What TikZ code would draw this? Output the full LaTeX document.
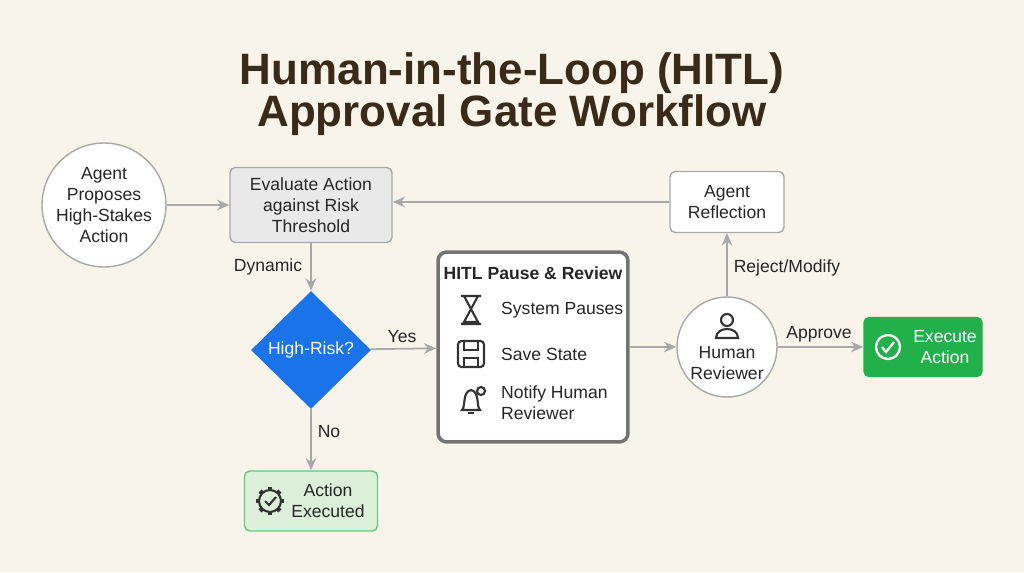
\documentclass[tikz,border=0pt]{standalone}
\usepackage{fontspec}
\setmainfont{Liberation Sans}
\usetikzlibrary{shapes.geometric,positioning,arrows.meta}
\definecolor{bg}{HTML}{F8F4EA}
\definecolor{ttl}{HTML}{3A2A1A}
\definecolor{edge}{HTML}{A8A8A8}
\definecolor{blu}{HTML}{1A73E8}
\definecolor{grn}{HTML}{22B04A}
\definecolor{lgrn}{HTML}{DCEFD8}
\definecolor{gbox}{HTML}{E9E9E9}
\tikzset{
	txt/.style={font=\fontsize{10}{12}\selectfont, text=black!85, align=center},
	circ/.style={circle, draw=edge, fill=white, line width=0.8pt, inner sep=0pt, txt},
	box/.style={rectangle, rounded corners=3pt, draw=edge, line width=0.8pt, txt},
	arr/.style={-{Stealth[length=7pt,width=6pt]}, draw=edge, line width=1pt},
	lbl/.style={txt}
}
\begin{document}
\begin{tikzpicture}[x=0.02cm,y=-0.02cm]
	\fill[bg] (0,0) rectangle (1024,572);
	\useasboundingbox (0,0) rectangle (1024,572);
	% title
	\node[font=\fontsize{25}{23}\bfseries, text=ttl, align=center] (title) at (512,94) {Human-in-the-Loop (HITL)\\Approval Gate Workflow};
	% nodes
	\node[circ, minimum size=2.48cm] (propose) at (104,205) {Agent\\Proposes\\High-Stakes\\Action};
	\node[box, fill=gbox, minimum width=3.24cm, minimum height=1.5cm] (eval) at (311,205) {Evaluate Action\\against Risk\\Threshold};
	\node[box, fill=white, minimum width=2.28cm, minimum height=1.22cm] (reflect) at (727,202) {Agent\\Reflection};
	\node[diamond, fill=blu, text=white, minimum width=2.4cm, minimum height=2.36cm, inner sep=0pt, font=\fontsize{10}{12}\selectfont] (risk) at (311,350) {High-Risk?};
	\node[box, draw=black!55, line width=2pt, rounded corners=5pt, fill=white, minimum width=3.8cm, minimum height=3.8cm] (pause) at (533,347) {};
	\node[circ, minimum size=2cm] (human) at (727,347) {};
	\node[box, draw=grn, fill=grn, text=white, minimum width=2.36cm, minimum height=1.18cm] (exec) at (923,347) {};
	\node[box, draw=grn!70, fill=lgrn, minimum width=2.66cm, minimum height=1.2cm] (done) at (311,501) {};
	% texts inside
	\node[txt, font=\fontsize{10}{12}\bfseries] (pausehead) at (533,273) {HITL Pause \& Review};
	\node[txt, anchor=west] (step1) at (495,310) {System Pauses};
	\node[txt, anchor=west] (step2) at (495,354) {Save State};
	\node[txt, anchor=west, align=left] (step3) at (495,403) {Notify Human\\Reviewer};
	\node[txt] (humantxt) at (727,363) {Human\\Reviewer};
	\node[txt, text=white] (exectxt) at (945,347) {Execute\\Action};
	\node[txt] (donetxt) at (328,501) {Action\\Executed};
	% icons
	\draw[black!80, line width=1.2pt] (461,296) -- (481,296) (461,324) -- (481,324)
		(464,296) -- (478,322) -- (464,322) -- (478,296) -- cycle;
	\draw[black!80, line width=1.2pt, rounded corners=2pt] (458,341) rectangle (484,367);
	\draw[black!80, line width=1.2pt] (464,341) rectangle (478,350) (464,367) -- (464,358) -- (478,358) -- (478,367);
	\draw[black!80, line width=1.2pt] (462,410) .. controls (466,406) and (462,392) .. (471,390) .. controls (480,392) and (476,406) .. (480,410) -- cycle;
	\draw[black!80, line width=1.2pt] (468,413) -- (474,413);
	\draw[black!80, line width=1.2pt] (481,391) circle (4);
	\draw[black!80, line width=1.2pt] (727,320) circle (6) (716,338) .. controls (716,326) and (738,326) .. (738,338) -- cycle;
	\draw[white, line width=1.3pt] (888,347) circle (12) (882,347) -- (886,352) -- (894,342);
	\draw[black!80, line width=1.2pt] (270,501) circle (11);
	\foreach \a in {0,45,...,315} \draw[black!80, line width=2.5pt] (270,501) ++(\a:11) -- ++(\a:3);
	\draw[black!80, line width=1.2pt] (265,501) -- (269,505) -- (276,497);
	% connectors
	\draw[arr] (propose) -- (eval);
	\draw[arr] (reflect.west) -- (reflect.west -| eval.east);
	\draw[arr] (eval) -- (risk);
	\draw[arr] (risk) -- (pause);
	\draw[arr] (pause) -- (human);
	\draw[arr] (human) -- (reflect);
	\draw[arr] (human) -- (exec);
	\draw[arr] (risk) -- (done);
	% labels
	\node[lbl] (ldyn) at (268,267) {Dynamic};
	\node[lbl] (lyes) at (402,337) {Yes};
	\node[lbl] (lno) at (329,432) {No};
	\node[lbl] (lrej) at (787,268) {Reject/Modify};
	\node[lbl] (lapp) at (819,334) {Approve};
\end{tikzpicture}
\end{document}
